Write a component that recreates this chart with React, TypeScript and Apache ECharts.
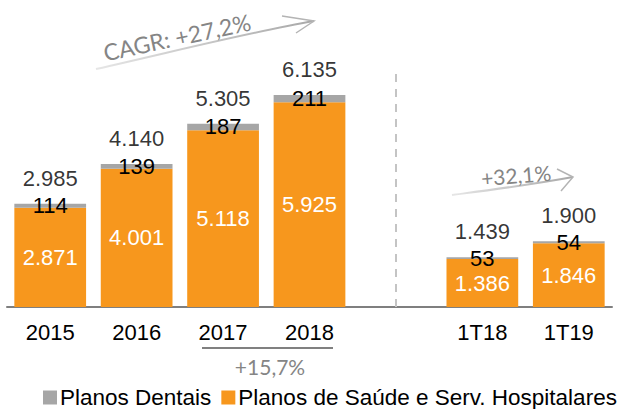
import React, { useEffect, useRef } from "react";
import * as echarts from "echarts";

const categories = ["2015", "2016", "2017", "2018", "", "1T18", "1T19"];
const dentais = [114, 139, 187, 211, null, 53, 54];
const saude = [2871, 4001, 5118, 5925, null, 1386, 1846];
const totals = [2985, 4140, 5305, 6135, null, 1439, 1900];
const seriesNames = ["Planos Dentais", "Planos de Saúde e Serv. Hospitalares"];
const cagrText = "CAGR: +27,2%";
const halfText = "+32,1%";
const yoyText = "+15,7%";

const ORANGE = "#F7971D";
const GRAY = "#A6A6A6";
const FONT = "'Liberation Sans', Arial, Helvetica, sans-serif";
const ANNO_FONT = "Lato, 'Open Sans', sans-serif";

const fmt = (v: number) => String(v).replace(/\B(?=(\d{3})+(?!\d))/g, ".");

export default function App() {
  const ref = useRef<HTMLDivElement>(null);
  useEffect(() => {
    if (!ref.current) return;
    const chart = echarts.init(ref.current, undefined, { renderer: "svg" });
    const arrowGrad = new echarts.graphic.LinearGradient(0, 0, 1, 0, [
      { offset: 0, color: "#e6e6e6" },
      { offset: 1, color: "#a8a8a8" },
    ]);
    const arrowGrad2 = new echarts.graphic.LinearGradient(0, 0, 1, 0, [
      { offset: 0, color: "#e6e6e6" },
      { offset: 1, color: "#a8a8a8" },
    ]);
    chart.setOption({
      animation: false,
      textStyle: { fontFamily: FONT },
      grid: { left: 7, right: 17, top: 72, bottom: 102, containLabel: false },
      legend: {
        data: seriesNames,
        top: 386,
        left: 43,
        padding: 0,
        itemWidth: 14,
        itemHeight: 14,
        itemGap: 10,
        icon: "rect",
        textStyle: { fontSize: 22.5, color: "#000", fontFamily: FONT, padding: [0, 0, 0, -2] },
      },
      xAxis: {
        type: "category",
        data: categories,
        axisLine: { lineStyle: { color: "#7f7f7f", width: 2 } },
        axisTick: { show: false },
        axisLabel: { color: "#000", fontSize: 22, margin: 14, fontFamily: FONT },
      },
      yAxis: { type: "value", min: 0, max: 6800, show: false, splitLine: { show: false } },
      series: [
        {
          name: seriesNames[1],
          type: "bar",
          stack: "t",
          data: saude,
          barCategoryGap: "17%",
          itemStyle: { color: ORANGE },
          label: {
            show: true,
            position: "inside",
            color: "#fff",
            fontSize: 22,
            fontFamily: FONT,
            formatter: (p: any) => fmt(p.value),
          },
          markLine: {
            silent: true,
            symbol: "none",
            label: { show: false },
            lineStyle: { color: "#c4c4c4", width: 2, type: [8, 7] },
            data: [{ xAxis: 4 }],
          },
        },
        {
          name: seriesNames[0],
          type: "bar",
          stack: "t",
          data: dentais,
          itemStyle: { color: GRAY },
          label: {
            show: true,
            position: "inside",
            color: "#000",
            fontSize: 22,
            fontFamily: FONT,
            formatter: (p: any) => fmt(p.value),
          },
        },
        {
          name: "Total",
          type: "scatter",
          data: totals,
          symbolSize: 1,
          silent: true,
          itemStyle: { color: "rgba(0,0,0,0)" },
          label: {
            show: true,
            position: "top",
            distance: 14,
            color: "#000",
            fontSize: 22,
            fontFamily: FONT,
            formatter: (p: any) => fmt(p.value),
          },
        },
      ],
      graphic: [
        {
          type: "bezierCurve",
          shape: { x1: 96, y1: 69, cpx1: 180, cpy1: 50, cpx2: 250, cpy2: 32, x2: 314, y2: 21 },
          style: { stroke: arrowGrad, lineWidth: 2, fill: "none" },
        },
        {
          type: "polyline",
          shape: { points: [[282, 16], [314, 21], [296, 33]] },
          style: { stroke: "#b4b4b4", lineWidth: 1.5, fill: "none" },
        },
        {
          type: "text",
          x: 177,
          y: 37,
          rotation: 0.21,
          style: {
            text: cagrText,
            fill: "#858585",
            fontSize: 23,
            fontFamily: ANNO_FONT,
            align: "center",
            verticalAlign: "middle",
          },
        },
        {
          type: "bezierCurve",
          shape: { x1: 452, y1: 195, cpx1: 490, cpy1: 190, cpx2: 530, cpy2: 185, x2: 573, y2: 177 },
          style: { stroke: arrowGrad2, lineWidth: 2, fill: "none" },
        },
        {
          type: "polyline",
          shape: { points: [[557, 169], [573, 177], [561, 191]] },
          style: { stroke: "#b4b4b4", lineWidth: 1.5, fill: "none" },
        },
        {
          type: "text",
          x: 516,
          y: 175,
          rotation: 0.08,
          style: {
            text: halfText,
            fill: "#858585",
            fontSize: 21,
            fontFamily: ANNO_FONT,
            align: "center",
            verticalAlign: "middle",
          },
        },
        {
          type: "line",
          shape: { x1: 202, y1: 348, x2: 333, y2: 348 },
          style: { stroke: "#808080", lineWidth: 2 },
        },
        {
          type: "text",
          x: 270,
          y: 366,
          style: {
            text: yoyText,
            fill: "#858585",
            fontSize: 21,
            fontFamily: ANNO_FONT,
            align: "center",
            verticalAlign: "middle",
          },
        },
      ],
    });
    return () => chart.dispose();
  }, []);
  return (
    <div
      ref={ref}
      style={{ position: "fixed", left: 0, top: 0, width: 629, height: 409, background: "#fff" }}
    />
  );
}
